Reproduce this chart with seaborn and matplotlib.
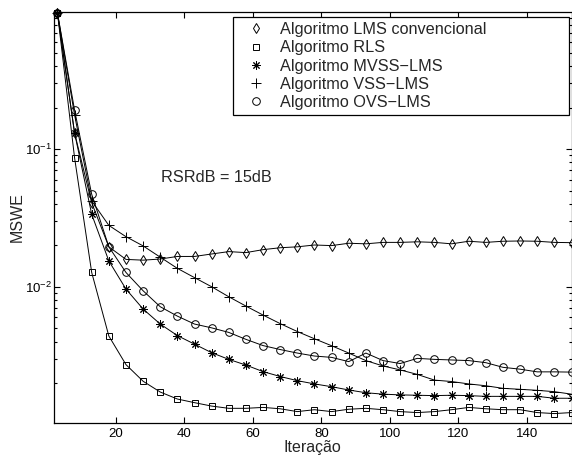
import numpy as np
import pandas as pd
import matplotlib
matplotlib.use("Agg")
import matplotlib.pyplot as plt
from matplotlib.lines import Line2D
from matplotlib.ticker import LogLocator, NullFormatter, FixedLocator
import seaborn as sns

iteracao = [3, 8, 13, 18, 23, 28, 33, 38, 43, 48, 53, 58, 63, 68, 73, 78,
            83, 88, 93, 98, 103, 108, 113, 118, 123, 128, 133, 138, 143, 148, 153]

lms = [0.975, 0.131, 0.0407, 0.0195, 0.0158, 0.0156, 0.0159, 0.0166, 0.0166, 0.0173,
       0.0180, 0.0177, 0.0186, 0.0192, 0.0195, 0.0201, 0.0199, 0.0207, 0.0205, 0.0210,
       0.0210, 0.0212, 0.0210, 0.0205, 0.0214, 0.0210, 0.0214, 0.0215, 0.0214, 0.0210, 0.0209]
rls = [0.975, 0.0865, 0.0127, 0.00439, 0.00272, 0.00206, 0.00172, 0.00153, 0.00144, 0.00136,
       0.00131, 0.00131, 0.00133, 0.00130, 0.00124, 0.00128, 0.00124, 0.00129, 0.00131, 0.00128,
       0.00124, 0.00122, 0.00124, 0.00128, 0.00133, 0.00130, 0.00128, 0.00128, 0.00122, 0.00120, 0.00122]
mvss = [0.975, 0.131, 0.0336, 0.0154, 0.00962, 0.00689, 0.00536, 0.00442, 0.00383, 0.00332,
        0.00297, 0.00270, 0.00242, 0.00223, 0.00208, 0.00197, 0.00188, 0.00178, 0.00170, 0.00166,
        0.00164, 0.00163, 0.00162, 0.00163, 0.00162, 0.00160, 0.00160, 0.00160, 0.00160, 0.00155, 0.00155]
vss = [0.975, 0.177, 0.042, 0.0279, 0.0231, 0.0198, 0.0164, 0.0136, 0.01165, 0.0100,
       0.00846, 0.00724, 0.00623, 0.00540, 0.00473, 0.00419, 0.00373, 0.00330, 0.00291, 0.00266,
       0.00249, 0.00231, 0.00210, 0.00205, 0.00197, 0.00191, 0.00183, 0.00180, 0.00177, 0.00173, 0.00166]
ovs = [0.975, 0.192, 0.0469, 0.0195, 0.0127, 0.00935, 0.00716, 0.00612, 0.00536, 0.00503,
       0.00466, 0.00415, 0.00374, 0.00350, 0.00330, 0.00314, 0.00307, 0.00286, 0.00330, 0.00291,
       0.00277, 0.00302, 0.00297, 0.00294, 0.00291, 0.00281, 0.00260, 0.00252, 0.00241, 0.00241, 0.00240]

labels = ["Algoritmo LMS convencional", "Algoritmo RLS", "Algoritmo MVSS\u2212LMS",
          "Algoritmo VSS\u2212LMS", "Algoritmo OVS\u2212LMS"]
series = [lms, rls, mvss, vss, ovs]
markers = ["d", "s", (8, 2, 0), "+", "o"]
msizes = [5.5, 4.5, 6, 6.5, 5.5]

x_ticks = [20, 40, 60, 80, 100, 120, 140]
annot = "RSRdB = 15dB"

sns.set_style("ticks")
plt.rcParams["font.family"] = ["Liberation Sans", "DejaVu Sans"]
plt.rcParams["mathtext.fontset"] = "custom"
plt.rcParams["mathtext.rm"] = "Liberation Sans"
plt.rcParams["mathtext.it"] = "Liberation Sans:italic"

fig = plt.figure(figsize=(5.72, 4.62), dpi=100)
ax = fig.add_axes([54 / 572, 1 - 422.7 / 462, 517.5 / 572, 410.4 / 462])

for vals, lab, mk, ms in zip(series, labels, markers, msizes):
    df = pd.DataFrame({"x": iteracao, "y": vals})
    sns.lineplot(data=df, x="x", y="y", ax=ax, color="black", linewidth=0.7,
                 marker=mk, markersize=ms, markerfacecolor="none",
                 markeredgecolor="black", markeredgewidth=0.7, clip_on=False,
                 legend=False)

ax.set_yscale("log")
ax.set_xlim(2, 153)
ax.set_ylim(1.03e-3, 0.984)
ax.xaxis.set_major_locator(FixedLocator(x_ticks))
ax.yaxis.set_major_locator(LogLocator(base=10))
ax.yaxis.set_minor_locator(LogLocator(base=10, subs=np.arange(2, 10)))
ax.yaxis.set_minor_formatter(NullFormatter())

ax.tick_params(which="both", direction="in", top=True, right=True, colors="black",
               labelsize=9.5, width=0.8)
ax.tick_params(which="major", length=4)
ax.tick_params(axis="x", which="major", pad=4)
ax.tick_params(axis="y", which="major", pad=1.5)
ax.tick_params(which="minor", length=2)
for sp in ax.spines.values():
    sp.set_visible(True)
    sp.set_color("black")
    sp.set_linewidth(0.9)

ax.set_xlabel("Itera\u00e7\u00e3o", fontsize=11.5, labelpad=0)
ax.set_ylabel("MSWE", fontsize=11.5, labelpad=0)

ax.text(33.3, 0.0626, annot, fontsize=11.7, ha="left", va="center")

handles = [Line2D([], [], linestyle="none", marker=mk, markersize=ms,
                  markerfacecolor="none", markeredgecolor="black", markeredgewidth=0.7)
           for mk, ms in zip(markers, msizes)]
leg = ax.legend(handles, labels, loc="upper left",
                bbox_to_anchor=(0.3459, 0.7498, 0.6493, 0.238), mode="expand",
                borderaxespad=0, fontsize=11.7, frameon=True, fancybox=False,
                edgecolor="black", framealpha=1, labelspacing=0.2, handlelength=2.2,
                handletextpad=0.4, borderpad=0.3)
leg.get_frame().set_linewidth(0.9)

fig.savefig("out.png", dpi=100)
